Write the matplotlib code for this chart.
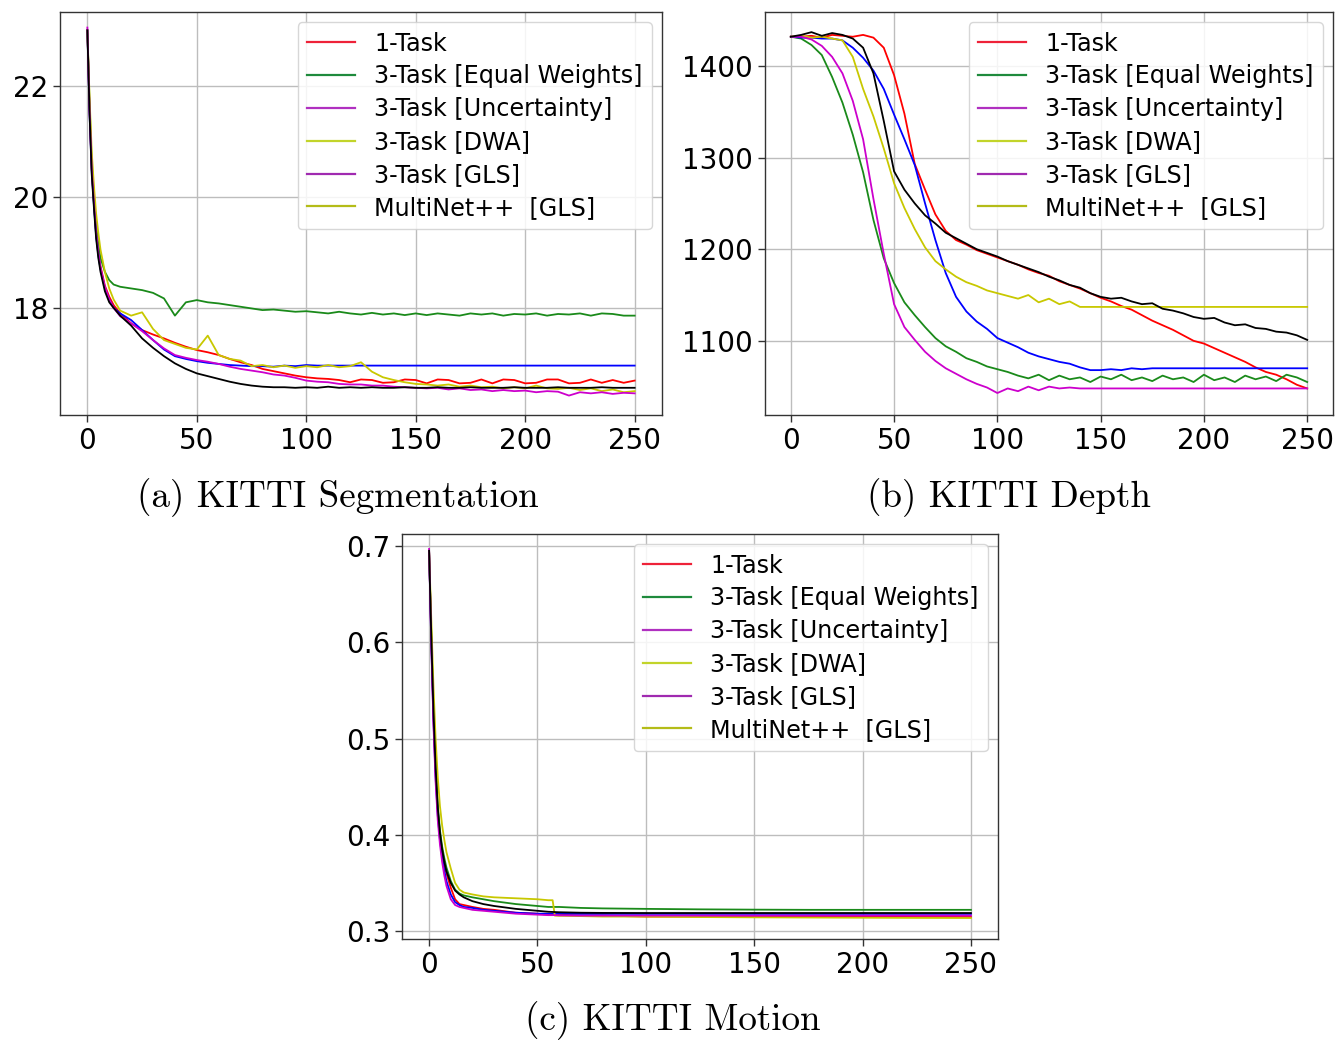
import matplotlib
matplotlib.use("Agg")
import matplotlib.pyplot as plt
from matplotlib.lines import Line2D

# ---------------------------------------------------------------- labels
labels = ["1-Task", "3-Task [Equal Weights]", "3-Task [Uncertainty]",
          "3-Task [DWA]", "3-Task [GLS]", "MultiNet++  [GLS]"]
line_colors = ["#ff0000", "#1a8a1a", "#0000ff", "#c8c800", "#cc00cc", "#000000"]
legend_colors = ["#ee2238", "#1e8a3c", "#b030c0", "#c2d42a", "#a02ab0", "#b4bc18"]

# ---------------------------------------------------------------- (a) segmentation
epochs_seg = [0, 1, 2, 3, 4, 5, 6, 8, 10, 12] + list(range(15, 251, 5))

seg_1task = [23.0, 21.6, 20.5, 19.9, 19.35, 19.0, 18.75, 18.4, 18.2, 18.05,
             17.9, 17.72, 17.6, 17.52, 17.45, 17.37, 17.3, 17.24, 17.2, 17.15,
             17.08, 17.02, 16.97, 16.9, 16.86, 16.82, 16.78, 16.75, 16.73, 16.72,
             16.7, 16.66, 16.71, 16.7, 16.65, 16.66, 16.71, 16.7, 16.64, 16.71,
             16.7, 16.64, 16.65, 16.71, 16.64, 16.71, 16.7, 16.64, 16.65, 16.71,
             16.71, 16.64, 16.65, 16.71, 16.65, 16.7, 16.65, 16.69]
seg_equal = [23.0, 21.7, 20.6, 20.0, 19.5, 19.15, 18.9, 18.65, 18.5, 18.42,
             18.38, 18.35, 18.32, 18.27, 18.17, 17.86, 18.1, 18.14, 18.1, 18.08,
             18.05, 18.02, 17.99, 17.96, 17.97, 17.95, 17.93, 17.94, 17.92, 17.9,
             17.93, 17.9, 17.88, 17.91, 17.88, 17.9, 17.87, 17.9, 17.87, 17.9,
             17.88, 17.86, 17.9, 17.88, 17.9, 17.86, 17.89, 17.88, 17.9, 17.86,
             17.89, 17.88, 17.9, 17.86, 17.9, 17.89, 17.86, 17.86]
seg_uncert = [23.0, 21.5, 20.45, 19.85, 19.3, 18.95, 18.7, 18.35, 18.15, 18.0,
              17.9, 17.78, 17.6, 17.42, 17.25, 17.13, 17.08, 17.04, 17.01, 16.99,
              16.97, 16.96, 16.95, 16.95, 16.94, 16.96, 16.95, 16.97, 16.96, 16.96,
              16.96, 16.96, 16.96, 16.96, 16.96, 16.96, 16.96, 16.96, 16.96, 16.96,
              16.96, 16.96, 16.96, 16.96, 16.96, 16.96, 16.96, 16.96, 16.96, 16.96,
              16.96, 16.96, 16.96, 16.96, 16.96, 16.96, 16.96, 16.96]
seg_dwa = [23.0, 21.8, 20.8, 20.2, 19.7, 19.35, 19.05, 18.65, 18.35, 18.15,
           17.95, 17.86, 17.92, 17.62, 17.42, 17.35, 17.28, 17.25, 17.5, 17.15,
           17.08, 17.05, 16.95, 16.97, 16.93, 16.96, 16.92, 16.95, 16.93, 16.97,
           16.93, 16.95, 17.02, 16.85, 16.75, 16.7, 16.66, 16.63, 16.62, 16.6,
           16.62, 16.58, 16.6, 16.57, 16.58, 16.55, 16.57, 16.55, 16.6, 16.55,
           16.54, 16.56, 16.52, 16.55, 16.5, 16.53, 16.48, 16.5]
seg_gls = [23.05, 21.55, 20.5, 19.9, 19.35, 19.0, 18.72, 18.38, 18.15, 18.0,
           17.85, 17.72, 17.58, 17.42, 17.27, 17.15, 17.1, 17.06, 17.03, 16.99,
           16.94, 16.9, 16.87, 16.84, 16.8, 16.78, 16.74, 16.69, 16.67, 16.66,
           16.63, 16.62, 16.62, 16.6, 16.6, 16.58, 16.57, 16.56, 16.55, 16.56,
           16.53, 16.55, 16.52, 16.53, 16.5, 16.52, 16.5, 16.51, 16.48, 16.5,
           16.49, 16.42, 16.48, 16.46, 16.48, 16.45, 16.47, 16.46]
seg_multinet = [23.0, 21.5, 20.4, 19.8, 19.25, 18.9, 18.65, 18.3, 18.1, 18.0,
                17.86, 17.68, 17.45, 17.28, 17.13, 17.0, 16.9, 16.82, 16.77, 16.72,
                16.67, 16.63, 16.6, 16.58, 16.57, 16.57, 16.56, 16.57, 16.56, 16.58,
                16.56, 16.57, 16.56, 16.57, 16.56, 16.56, 16.57, 16.56, 16.56, 16.57,
                16.56, 16.56, 16.57, 16.56, 16.56, 16.56, 16.57, 16.56, 16.56, 16.56,
                16.57, 16.56, 16.56, 16.56, 16.57, 16.56, 16.56, 16.56]

# ---------------------------------------------------------------- (b) depth
epochs_depth = list(range(0, 251, 5))

depth_1task = [1432, 1432, 1433, 1431, 1434, 1433, 1432, 1434, 1431, 1420,
               1390, 1348, 1293, 1265, 1238, 1220, 1210, 1205, 1199, 1195,
               1191, 1187, 1183, 1178, 1174, 1171, 1165, 1161, 1157, 1152,
               1147, 1143, 1138, 1134, 1128, 1122, 1117, 1112, 1106, 1100,
               1097, 1092, 1087, 1082, 1077, 1071, 1066, 1063, 1058, 1052, 1048]
depth_equal = [1432, 1430, 1423, 1412, 1388, 1360, 1325, 1284, 1232, 1190,
               1163, 1142, 1128, 1115, 1103, 1094, 1088, 1081, 1077, 1072,
               1069, 1066, 1062, 1059, 1063, 1057, 1062, 1058, 1060, 1055,
               1061, 1058, 1063, 1057, 1060, 1056, 1062, 1058, 1060, 1055,
               1063, 1057, 1060, 1055, 1062, 1058, 1061, 1056, 1063, 1060, 1055]
depth_uncert = [1432, 1431, 1431, 1430, 1430, 1428, 1420, 1409, 1395, 1375,
                1347, 1320, 1292, 1250, 1210, 1174, 1148, 1132, 1121, 1113,
                1103, 1098, 1093, 1087, 1083, 1080, 1077, 1075, 1071, 1068,
                1068, 1069, 1068, 1070, 1069, 1070, 1070, 1070, 1070, 1070,
                1070, 1070, 1070, 1070, 1070, 1070, 1070, 1070, 1070, 1070, 1070]
depth_dwa = [1432, 1433, 1431, 1432, 1430, 1428, 1410, 1375, 1345, 1310,
             1272, 1245, 1222, 1202, 1187, 1178, 1170, 1164, 1160, 1155,
             1152, 1149, 1146, 1150, 1142, 1146, 1140, 1143, 1137, 1137,
             1137, 1137, 1137, 1137, 1137, 1137, 1137, 1137, 1137, 1137,
             1137, 1137, 1137, 1137, 1137, 1137, 1137, 1137, 1137, 1137, 1137]
depth_gls = [1432, 1432, 1429, 1422, 1410, 1392, 1362, 1320, 1255, 1195,
             1140, 1115, 1101, 1088, 1078, 1070, 1064, 1058, 1053, 1049,
             1043, 1048, 1045, 1050, 1046, 1050, 1048, 1049, 1048, 1048,
             1048, 1048, 1048, 1048, 1048, 1048, 1048, 1048, 1048, 1048,
             1048, 1048, 1048, 1048, 1048, 1048, 1048, 1048, 1048, 1048, 1048]
depth_multinet = [1432, 1434, 1437, 1433, 1436, 1434, 1430, 1420, 1392, 1340,
                  1285, 1265, 1250, 1237, 1228, 1218, 1212, 1206, 1200, 1196,
                  1192, 1187, 1183, 1179, 1175, 1170, 1166, 1161, 1158, 1152,
                  1148, 1146, 1147, 1143, 1140, 1141, 1135, 1133, 1130, 1126,
                  1124, 1125, 1120, 1117, 1118, 1114, 1113, 1110, 1109, 1106, 1101]

# ---------------------------------------------------------------- (c) motion
epochs_motion = [0, 1, 2, 3, 4, 5, 6, 7, 8, 10, 12, 14, 16, 20, 25, 30, 40, 50,
                 55, 57, 58, 60, 70, 80, 100, 125, 150, 175, 200, 225, 250]

motion_1task = [0.695, 0.605, 0.525, 0.465, 0.425, 0.400, 0.383, 0.370, 0.360,
                0.345, 0.333, 0.328, 0.327, 0.325, 0.323, 0.322, 0.319, 0.318,
                0.317, 0.317, 0.317, 0.317, 0.316, 0.316, 0.315, 0.315, 0.315,
                0.3148, 0.3148, 0.3146, 0.3146]
motion_equal = [0.695, 0.610, 0.530, 0.470, 0.430, 0.405, 0.388, 0.376, 0.366,
                0.352, 0.343, 0.339, 0.337, 0.335, 0.333, 0.331, 0.328, 0.326,
                0.325, 0.325, 0.325, 0.325, 0.324, 0.3235, 0.323, 0.3225, 0.3222,
                0.322, 0.322, 0.322, 0.322]
motion_uncert = [0.695, 0.600, 0.520, 0.460, 0.420, 0.395, 0.377, 0.363, 0.352,
                 0.338, 0.330, 0.327, 0.325, 0.324, 0.322, 0.321, 0.319, 0.318,
                 0.318, 0.318, 0.318, 0.318, 0.3178, 0.3178, 0.3178, 0.3178,
                 0.3178, 0.3178, 0.3178, 0.3178, 0.3178]
motion_dwa = [0.695, 0.625, 0.555, 0.500, 0.460, 0.430, 0.410, 0.395, 0.382,
              0.365, 0.350, 0.343, 0.340, 0.338, 0.336, 0.335, 0.334, 0.333,
              0.332, 0.332, 0.316, 0.3158, 0.3155, 0.315, 0.315, 0.3145, 0.3142,
              0.314, 0.3138, 0.3136, 0.3135]
motion_gls = [0.697, 0.600, 0.515, 0.455, 0.415, 0.390, 0.372, 0.358, 0.347,
              0.333, 0.327, 0.325, 0.324, 0.322, 0.321, 0.320, 0.318, 0.317,
              0.3165, 0.3165, 0.3165, 0.3163, 0.316, 0.316, 0.316, 0.316, 0.316,
              0.316, 0.316, 0.316, 0.316]
motion_multinet = [0.695, 0.608, 0.530, 0.470, 0.428, 0.402, 0.385, 0.372, 0.362,
                   0.350, 0.342, 0.338, 0.335, 0.331, 0.328, 0.326, 0.323, 0.321,
                   0.320, 0.3198, 0.3197, 0.3195, 0.319, 0.3188, 0.3187, 0.3187,
                   0.3187, 0.3187, 0.3187, 0.3187, 0.3187]

panels = [
    (epochs_seg, [seg_1task, seg_equal, seg_uncert, seg_dwa, seg_gls, seg_multinet],
     [18, 20, 22], (16.07, 23.33), "(a) KITTI Segmentation"),
    (epochs_depth, [depth_1task, depth_equal, depth_uncert, depth_dwa, depth_gls, depth_multinet],
     [1100, 1200, 1300, 1400], (1019, 1459), "(b) KITTI Depth"),
    (epochs_motion, [motion_1task, motion_equal, motion_uncert, motion_dwa, motion_gls, motion_multinet],
     [0.3, 0.4, 0.5, 0.6, 0.7], (0.2917, 0.7125), "(c) KITTI Motion"),
]

W, H = 1339, 1042
fig = plt.figure(figsize=(W / 100, H / 100), dpi=100)
fig.patch.set_facecolor("white")

# axes boxes in pixels: left, top, right, bottom
boxes = [(60, 12, 662, 415), (765, 12, 1333, 415), (402, 534, 998, 939)]
caption_pos = [(338, 498), (1009, 498), (673, 1021)]

handles = [Line2D([], [], color=c, lw=1.6) for c in legend_colors]

for (ep, series, yticks, ylim, caption), (l, t, r, b), (cx, cy) in zip(panels, boxes, caption_pos):
    ax = fig.add_axes([l / W, 1 - b / H, (r - l) / W, (b - t) / H])
    for vals, col in zip(series, line_colors):
        ax.plot(ep, vals, color=col, lw=1.3)
    ax.set_xlim(-12.5, 262.5)
    ax.set_ylim(*ylim)
    ax.set_xticks([0, 50, 100, 150, 200, 250])
    ax.set_yticks(yticks)
    ax.tick_params(labelsize=20, length=5, width=1, color="#333333")
    ax.grid(True, color="#bdbdbd", lw=1.0)
    ax.set_axisbelow(True)
    for s in ax.spines.values():
        s.set_color("#333333")
        s.set_linewidth(1.0)
    ax.legend(handles, labels, loc="upper right", fontsize=17.2, labelspacing=0.37,
              handlelength=2.0, handletextpad=0.8, borderaxespad=0.42,
              framealpha=0.85, edgecolor="#d0d0d0")
    fig.text(cx / W, 1 - cy / H, caption, ha="center", va="center",
             family="cmr10", fontsize=26.7)

fig.savefig("out.png", dpi=100, facecolor="white")
